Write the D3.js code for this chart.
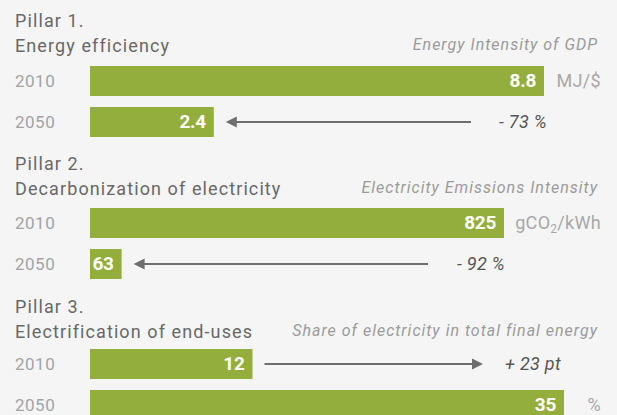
<!DOCTYPE html>
<html>
<head>
<meta charset="utf-8">
<script src="https://cdn.jsdelivr.net/npm/d3@7"></script>
<style>
  html, body { margin: 0; padding: 0; background: #f5f5f5; }
  svg { display: block; font-family: Roboto, "Liberation Sans", sans-serif; }
</style>
</head>
<body>
<svg id="chart" width="617" height="415"></svg>
<script>
const pillars = ["Pillar 1.", "Pillar 2.", "Pillar 3."];
const pillarNames = ["Energy efficiency", "Decarbonization of electricity", "Electrification of end-uses"];
const metrics = ["Energy Intensity of GDP", "Electricity Emissions Intensity", "Share of electricity in total final energy"];
const units = [["MJ/$"], ["gCO", "2", "/kWh"], ["%"]];
const years = ["2010", "2050"];
const values2010 = [8.8, 825, 12];
const values2050 = [2.4, 63, 35];
const changeLabels = ["- 73 %", "- 92 %", "+ 23 pt"];

// layout per pillar (pixels)
const layout = [
  { titleY: 27, barTop: 66, barMax: 454, labelX: 499, arrowFar: 471 },
  { titleY: 170, barTop: 208, barMax: 414, labelX: 457, arrowFar: 428 },
  { titleY: 313, barTop: 349, barMax: 474, labelX: 505, arrowFar: 483 },
];

const barX = 90;
const green = "#93ae3c";

const svg = d3.select("#chart");

pillars.forEach((p, i) => {
  const L = layout[i];
  const vals = [values2010[i], values2050[i]];
  const x = d3.scaleLinear().domain([0, d3.max(vals)]).range([barX, barX + L.barMax]);
  const y = d3.scaleBand().domain(years).range([L.barTop, L.barTop + 71]).paddingInner(0.268);
  const g = svg.append("g");

  g.append("text").attr("x", 15).attr("y", L.titleY)
    .attr("font-size", 18).attr("letter-spacing", 1.1).attr("fill", "#686868").text(p);
  g.append("text").attr("x", 15).attr("y", L.titleY + 25)
    .attr("font-size", 18).attr("letter-spacing", 1.1).attr("fill", "#686868").text(pillarNames[i]);

  g.append("text").attr("x", 598).attr("y", L.titleY + 23)
    .attr("text-anchor", "end").attr("font-style", "italic")
    .attr("font-size", 16).attr("letter-spacing", 1).attr("fill", "#9b9b9b").text(metrics[i]);

  const rows = years.map((yr, k) => ({ yr, v: vals[k] }));

  g.selectAll("text.year").data(rows).join("text")
    .attr("class", "year")
    .attr("x", 15)
    .attr("y", (d) => y(d.yr) + y.bandwidth() / 2 + 6)
    .attr("font-size", 17).attr("letter-spacing", 0.5).attr("fill", "#a3a3a3")
    .text((d) => d.yr);

  g.selectAll("rect").data(rows).join("rect")
    .attr("x", x(0))
    .attr("y", (d) => y(d.yr))
    .attr("width", (d) => x(d.v) - x(0))
    .attr("height", y.bandwidth())
    .attr("fill", green);

  g.selectAll("text.val").data(rows).join("text")
    .attr("class", "val")
    .attr("x", (d) => x(d.v) - 8)
    .attr("y", (d) => y(d.yr) + y.bandwidth() / 2 + 6)
    .attr("text-anchor", "end")
    .attr("font-size", 19).attr("font-weight", "bold").attr("letter-spacing", -0.3)
    .attr("fill", "#fff")
    .text((d) => String(d.v));

  // unit next to the longer bar
  const kMax = vals[0] >= vals[1] ? 0 : 1;
  const unit = g.append("text").attr("x", 601)
    .attr("y", y(years[kMax]) + y.bandwidth() / 2 + 6)
    .attr("text-anchor", "end").attr("font-size", 18).attr("letter-spacing", 0.3)
    .attr("fill", "#a8a8a8");
  units[i].forEach((s, j) => {
    const t = unit.append("tspan").text(s);
    if (units[i].length > 1 && j === 1) t.attr("font-size", 12).attr("dy", 4);
    if (units[i].length > 1 && j === 2) t.attr("dy", -4);
  });

  // change arrow on the shorter bar's row
  const kMin = 1 - kMax;
  const ay = y(years[kMin]) + y.bandwidth() / 2;
  const near = x(vals[kMin]) + 12;
  const far = L.arrowFar;
  const dir = kMin === 0 ? 1 : -1; // 1: points right
  const tip = dir === 1 ? far : near;
  const tail = dir === 1 ? near : far;
  g.append("line")
    .attr("x1", tail).attr("x2", tip - dir * 8)
    .attr("y1", ay).attr("y2", ay)
    .attr("stroke", "#6e6e6e").attr("stroke-width", 2);
  g.append("path")
    .attr("d", d3.line()([[tip, ay], [tip - dir * 11, ay - 5.5], [tip - dir * 11, ay + 5.5]]) + "Z")
    .attr("fill", "#6e6e6e");

  g.append("text").attr("x", L.labelX).attr("y", ay + 6)
    .attr("font-size", 18).attr("font-style", "italic").attr("letter-spacing", 0.3)
    .attr("fill", "#555").text(changeLabels[i]);
});
</script>
</body>
</html>
